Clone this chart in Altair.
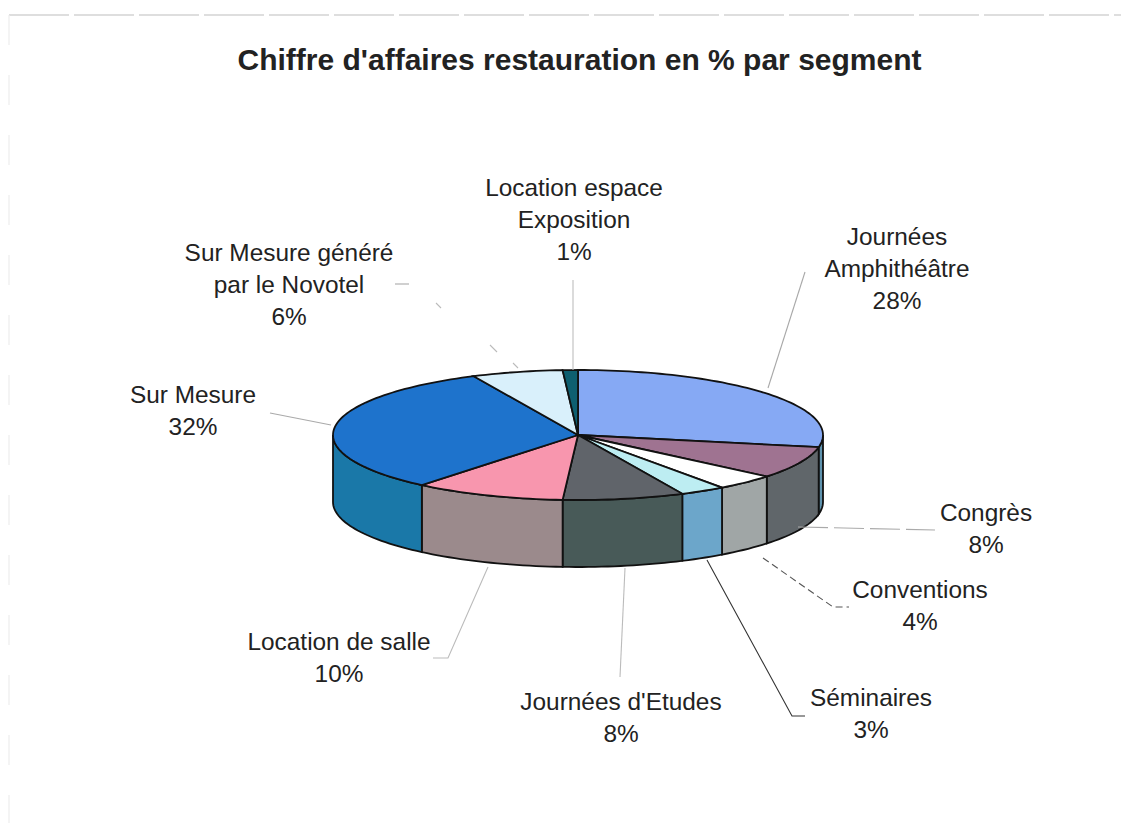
import math
import altair as alt
import pandas as pd

TITLE = "Chiffre d'affaires restauration en % par segment"
segments = ["Journées\nAmphithéâtre", "Congrès", "Conventions", "Séminaires", "Journées d'Etudes",
            "Location de salle", "Sur Mesure", "Sur Mesure généré\npar le Novotel", "Location espace\nExposition"]
shares = [28, 8, 4, 3, 8, 10, 32, 6, 1]
top_colors = ["#86A9F4", "#9F7391", "#FFFFFF", "#BDEDF2", "#60646A", "#F896AE", "#1E73CC", "#D9F0FB", "#0E5F70"]
side_colors = ["#5F93AE", "#60666A", "#A0A6A6", "#6CA6CA", "#485A58", "#9B8A8C", "#1A78A8", "#A0B0B8", "#0A4050"]
label_pos = [(897, 238), (986, 514), (920, 591), (871, 699), (621, 703), (339, 643), (193, 396), (289, 254), (574, 189)]
leaders = [
    ([(805, 272), (768, 388)], "#A8A8A8", None),
    ([(798, 527), (935, 530)], "#AAAAAA", [30, 6]),
    ([(763, 558), (833, 607), (849, 607)], "#555555", [7, 4]),
    ([(707, 560), (792, 716), (805, 716)], "#333333", None),
    ([(625, 568), (620, 677)], "#BBBBBB", None),
    ([(488, 567), (448, 658), (433, 658)], "#BBBBBB", None),
    ([(270, 413), (331, 425)], "#AAAAAA", None),
    ([(395, 284), (409, 284)], "#AAAAAA", None),
    ([(436, 303), (441, 308)], "#BBBBBB", None),
    ([(490, 345), (497, 352)], "#BBBBBB", None),
    ([(513, 363), (518, 368)], "#BBBBBB", None),
    ([(573, 280), (573, 370)], "#BDBDBD", None),
]
frame = [([(9, 15), (1121, 15)], "#BDBDBD", [60, 5]), ([(9, 15), (9, 823)], "#EDEDED", [30, 30])]

CX, CY, RX, RY, DEPTH = 578, 435, 245, 65, 67
xs = alt.Scale(domain=[8, 1121], nice=False, zero=False)
ys = alt.Scale(domain=[823, 8], nice=False, zero=False)


def pt(t, dy=0):
    return CX + RX * math.sin(t), CY - RY * math.cos(t) + dy


def arc(a, b, dy=0):
    n = max(2, int(abs(b - a) / math.radians(1.5)))
    return [pt(a + (b - a) * k / n, dy) for k in range(n + 1)]


def shape(points, fill=None, stroke="#111111", width=1.8, dash=None):
    df = pd.DataFrame(points, columns=["x", "y"]).reset_index()
    kw = dict(stroke=stroke, strokeWidth=width, interpolate="linear", clip=False)
    if fill:
        kw["fill"] = fill
    if dash:
        kw["strokeDash"] = dash
    return alt.Chart(df).mark_line(**kw).encode(
        x=alt.X("x:Q", scale=xs, axis=None),
        y=alt.Y("y:Q", scale=ys, axis=None),
        order="index:Q",
    )


layers = []
total = sum(shares)
bounds = [0.0]
for s in shares:
    bounds.append(bounds[-1] + s / total * 2 * math.pi)

# walls
for i in range(len(shares)):
    a, b = max(bounds[i], math.pi / 2), min(bounds[i + 1], 3 * math.pi / 2)
    if b > a:
        poly = arc(a, b) + arc(b, a, DEPTH)
        layers.append(shape(poly + poly[:1], side_colors[i]))
# top
for i in range(len(shares)):
    poly = [(CX, CY)] + arc(bounds[i], bounds[i + 1]) + [(CX, CY)]
    layers.append(shape(poly, top_colors[i]))
# leaders and frame
for pts, col, dash in leaders:
    layers.append(shape(pts, None, col, 1.1, dash))
for pts, col, dash in frame:
    layers.append(shape(pts, None, col, 1.2, dash))

labels = pd.DataFrame({
    "text": [f"{s}\n{v}%" for s, v in zip(segments, shares)],
    "x": [p[0] for p in label_pos],
    "y": [p[1] for p in label_pos],
})
layers.append(
    alt.Chart(labels).mark_text(font="Liberation Sans", fontSize=24.4, lineHeight=32, lineBreak="\n",
                                align="center", baseline="middle", color="#222222").encode(
        x=alt.X("x:Q", scale=xs, axis=None),
        y=alt.Y("y:Q", scale=ys, axis=None),
        text="text:N",
    )
)

chart = alt.layer(*layers).properties(
    width=1113, height=815, padding=0,
    autosize=alt.AutoSizeParams(type="none"),
    title=alt.TitleParams(TITLE, font="Liberation Sans", fontSize=30, fontWeight="bold", color="#222222",
                          anchor="middle", dx=15, dy=83, baseline="middle", offset=0),
).configure_view(stroke=None)

chart.save("out.html", embed_options={"renderer": "svg", "actions": False})
